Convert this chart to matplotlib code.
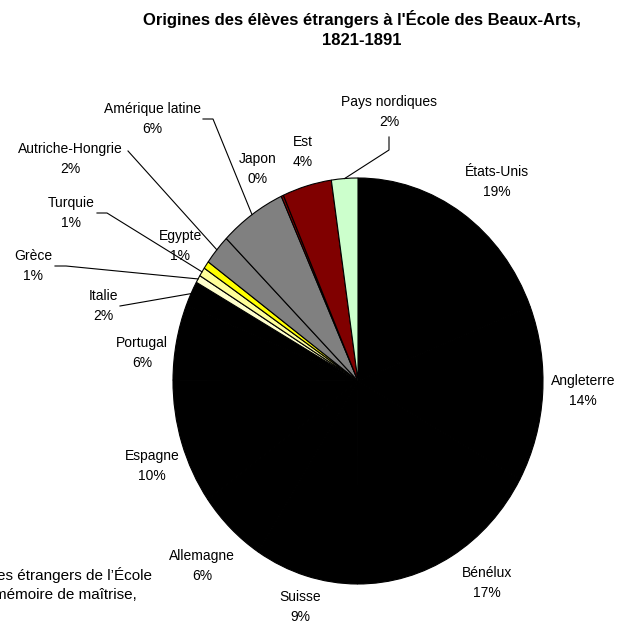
import numpy as np
import matplotlib
matplotlib.use('Agg')
import matplotlib.pyplot as plt

plt.rcParams['font.family'] = ['Liberation Sans', 'DejaVu Sans']

countries = ['États-Unis', 'Angleterre', 'Bénélux', 'Suisse', 'Allemagne',
             'Espagne', 'Portugal', 'Italie', 'Grèce', 'Turquie', 'Egypte',
             'Autriche-Hongrie', 'Amérique latine', 'Japon', 'Est',
             'Pays nordiques']
shares = [19, 14, 17, 9, 6, 10, 6, 2, 0.6, 0.7, 0.6, 2.4, 5.8, 0.2, 4.3, 2.3]
colors = ['#000000'] * 8 + ['#FFFFCC', '#FFFF99', '#FFFF00', '#808080',
                            '#808080', '#800000', '#800000', '#CCFFCC']

title = "Origines des élèves étrangers à l'École des Beaux-Arts,\n1821-1891"
source_lines = ['élèves étrangers de l’École', 'mémoire de maîtrise,']

W, H = 617, 625
# pie box in pixels: centre and radii (the Excel pie is slightly stretched)
CX, CY, RX, RY = 358, 381, 185, 203

# label centres, pixels from top-left
label_px = [(497, 182), (583, 391), (487, 583), (300, 607), (202, 566),
            (152, 466), (142, 353), (103, 306), (33, 266), (71, 213),
            (180, 246), (70, 159), (152, 119), (258, 169), (303, 152),
            (389, 112)]
# leader lines: start point(s) next to the label, end on the slice rim
leaders = {
    'Italie': [(120, 306)],
    'Grèce': [(55, 266), (66, 266)],
    'Turquie': [(97, 213), (107, 213)],
    'Autriche-Hongrie': [(128, 151)],
    'Amérique latine': [(203, 119), (213, 119)],
    'Pays nordiques': [(389, 137), (389, 150)],
}


def px_to_data(x, y):
    return (x - CX) / RX, (CY - y) / RY


fig = plt.figure(figsize=(W / 100, H / 100), dpi=100)
ax = fig.add_axes([(CX - RX) / W, (H - CY - RY) / H, 2 * RX / W, 2 * RY / H])

wedges, _ = ax.pie(shares, colors=colors, startangle=90, counterclock=False,
                   wedgeprops=dict(edgecolor='black', linewidth=0.8))
ax.set_aspect('auto')
ax.set_xlim(-1, 1)
ax.set_ylim(-1, 1)
ax.axis('off')

total = sum(shares)
for name, val, w, (lx, ly) in zip(countries, shares, wedges, label_px):
    pct = int(round(val / total * 100))
    tx, ty = px_to_data(lx, ly)
    ax.text(tx, ty, f'{name}\n{pct}%', ha='center', va='center',
            fontsize=10, linespacing=1.6, clip_on=False)
    if name in leaders:
        mid = np.deg2rad((w.theta1 + w.theta2) / 2)
        pts = [px_to_data(px, py) for px, py in leaders[name]]
        pts.append((np.cos(mid), np.sin(mid)))
        xs, ys = zip(*pts)
        ax.plot(xs, ys, color='black', linewidth=0.8, clip_on=False)

fig.text(362 / W, 1 - 29 / H, title, ha='center', va='center',
         fontsize=12, fontweight='bold', linespacing=1.35)

fig.text(152 / W, 1 - 575 / H, source_lines[0], ha='right', va='center',
         fontsize=11)
fig.text(137 / W, 1 - 595 / H, source_lines[1], ha='right', va='center',
         fontsize=11)

fig.savefig('out.png', dpi=100, facecolor='white')
